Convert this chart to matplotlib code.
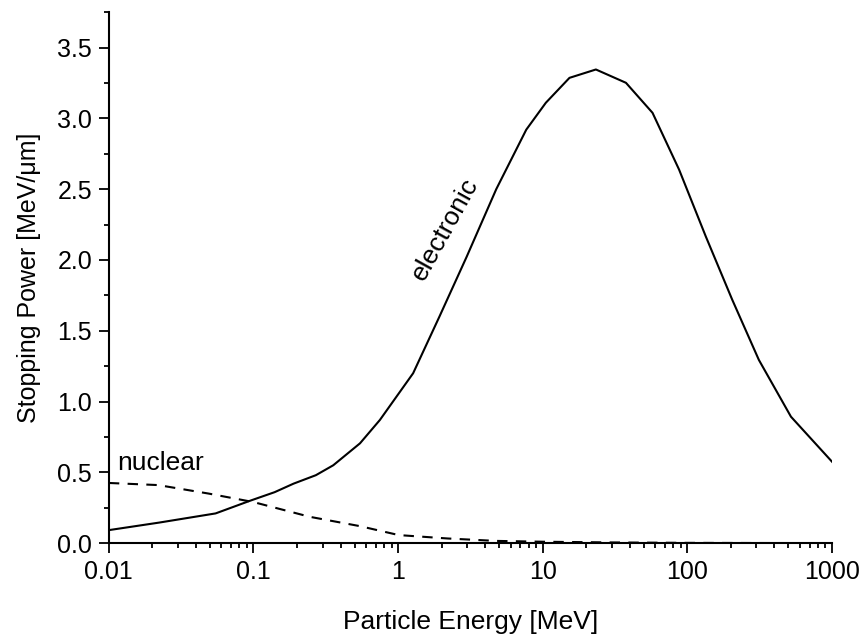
import numpy as np
import matplotlib
matplotlib.use("Agg")
import matplotlib.pyplot as plt
from matplotlib.ticker import LogLocator, FixedLocator, MultipleLocator, FuncFormatter

plt.rcParams["font.family"] = ["Liberation Sans", "DejaVu Sans"]

# electronic stopping power (solid)
energy_el = [0.01, 0.0222, 0.0547, 0.095, 0.14, 0.189, 0.27, 0.356, 0.545, 0.748,
             1.27, 1.93, 2.97, 4.77, 7.69, 10.5, 15.3, 23.3, 37.6, 57.4,
             87.6, 134, 204, 312, 520, 1000]
stop_el = [0.092, 0.145, 0.21, 0.30, 0.36, 0.42, 0.48, 0.55, 0.705, 0.87,
           1.20, 1.60, 2.02, 2.50, 2.92, 3.11, 3.286, 3.345, 3.251, 3.039,
           2.638, 2.166, 1.72, 1.294, 0.893, 0.575]

# nuclear stopping power (dashed)
energy_nu = [0.01, 0.022, 0.049, 0.1, 0.245, 0.545, 1.01, 2.2, 4.7, 10, 30, 100, 300, 1000]
stop_nu = [0.425, 0.41, 0.35, 0.29, 0.186, 0.12, 0.057, 0.033, 0.016, 0.01, 0.005, 0.002, 0.001, 0.0005]

x_ticks = [0.01, 0.1, 1, 10, 100, 1000]
x_ticklabels = ["0.01", "0.1", "1", "10", "100", "1000"]

fig = plt.figure(figsize=(8.64, 6.39), dpi=100)
ax = fig.add_axes([0.126, 0.150, 0.837, 0.831])

ax.plot(energy_el, stop_el, color="black", lw=1.5)
ax.plot(energy_nu, stop_nu, color="black", lw=1.5, ls=(0, (5, 4)))

ax.set_xscale("log")
ax.set_xlim(0.01, 1000)
ax.set_ylim(0, 3.75)

ax.xaxis.set_major_locator(FixedLocator(x_ticks))
ax.set_xticklabels(x_ticklabels)
ax.xaxis.set_minor_locator(LogLocator(base=10, subs=np.arange(2, 10)))
ax.xaxis.set_minor_formatter(FuncFormatter(lambda v, p: ""))
ax.yaxis.set_major_locator(MultipleLocator(0.5))
ax.yaxis.set_minor_locator(MultipleLocator(0.25))
ax.yaxis.set_major_formatter(FuncFormatter(lambda v, p: f"{v:.1f}"))

for s in ["top", "right"]:
    ax.spines[s].set_visible(False)
for s in ["left", "bottom"]:
    ax.spines[s].set_linewidth(1.5)

ax.tick_params(which="major", direction="out", length=7, width=1.3, labelsize=18, pad=5)
ax.tick_params(which="minor", direction="out", length=3.6, width=1.3)

ax.set_xlabel("Particle Energy [MeV]", fontsize=19, labelpad=19)
ax.set_ylabel("Stopping Power [MeV/μm]", fontsize=18, labelpad=12)

ax.text(0.0114, 0.516, "nuclear", fontsize=19, ha="left", va="baseline")
ax.text(2.1, 2.22, "electronic", fontsize=19, rotation=61, ha="center", va="center")

fig.savefig("out.png", dpi=100)
